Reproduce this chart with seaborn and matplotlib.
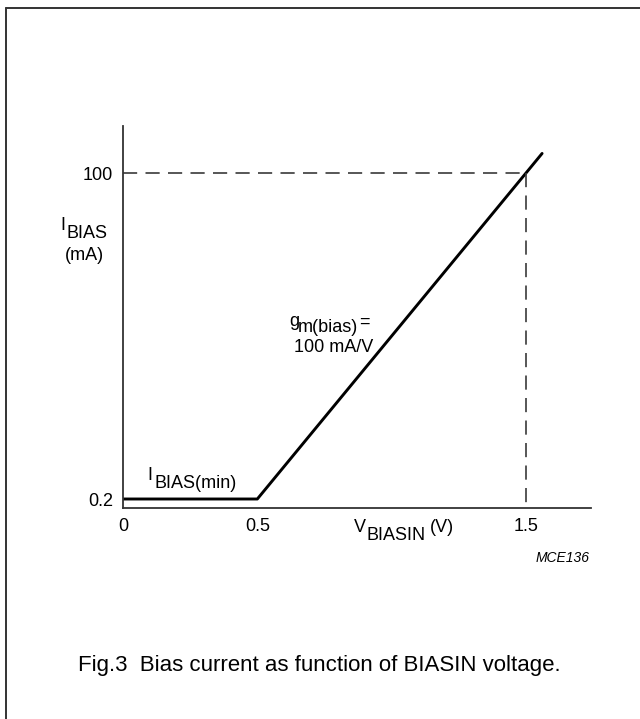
import pandas as pd
import matplotlib.pyplot as plt
import seaborn as sns
from matplotlib.lines import Line2D

# transfer curve (V, mA)
v_biasin = [0.0, 0.5, 1.5, 1.56]
i_bias = [0.2, 0.2, 100.0, 106.0]

# tick positions and labels
x_ticks = [0, 0.5, 1.5]
x_tick_labels = ['0', '0.5', '1.5']
y_ticks = [0.2, 100]
y_tick_labels = ['0.2', '100']

# reference point marked with dashed lines
v_ref = 1.5
i_ref = 100

sns.set_style('white')
plt.rcParams['font.family'] = ['Liberation Sans', 'DejaVu Sans']
plt.rcParams['text.color'] = 'black'

W, H = 640, 719
df = pd.DataFrame({'V': v_biasin, 'I': i_bias})

fig = plt.figure(figsize=(W / 100, H / 100), dpi=100)
ax = fig.add_axes([123 / W, 1 - 508 / H, 468 / W, 382 / H])

x_max = 1.742
y_min, y_max = -2.555, 114.4

sns.lineplot(data=df, x='V', y='I', color='black', linewidth=2.1,
             sort=False, ax=ax)
# dashed guides, both drawn starting from the 100 mA corner
ax.plot([0, v_ref], [i_ref, i_ref], color='#3a3a3a', lw=1.2,
        ls=(0, (8.5, 5)))
ax.plot([v_ref, v_ref], [i_ref, y_min], color='#3a3a3a', lw=1.2,
        ls=(0, (8.5, 5)))

ax.set_xlim(0, x_max)
ax.set_ylim(y_min, y_max)
ax.set_xticks(x_ticks)
ax.set_xticklabels(x_tick_labels)
ax.set_yticks(y_ticks)
ax.set_yticklabels(y_tick_labels)
ax.set_xlabel('')
ax.set_ylabel('')
ax.tick_params(direction='in', length=10.5, width=1.0, color='#333333',
               labelsize=13, pad=7, labelcolor='black')
for side in ['top', 'right']:
    ax.spines[side].set_visible(False)
for side in ['left', 'bottom']:
    ax.spines[side].set_color('#333333')
    ax.spines[side].set_linewidth(1.3)


def put(x, y, s, size=13, **kw):
    fig.text(x / W, 1 - y / H, s, fontsize=size, va='center', **kw)


# y axis label
put(60, 226, 'I')
put(66, 234, 'BIAS')
put(65, 256, '(mA)')

# slope annotation
put(289, 322, 'g')
put(298, 328, 'm(bias)')
put(359, 322, '=')
put(294, 347, '100 mA/V')

# minimum bias label
put(147, 476, 'I')
put(154, 484, 'BIAS(min)')

# x axis label
put(354, 527, 'V')
put(367, 535, 'BIASIN')
put(430, 528, '(V)')

put(590, 558, 'MCE136', size=10, style='italic', ha='right')

put(78, 666, 'Fig.3  Bias current as function of BIASIN voltage.', size=16)

# frame around the figure (only top and left edges fall inside)
fig.add_artist(Line2D([6 / W, 1], [1 - 8 / H, 1 - 8 / H], color='#333333',
                      lw=1.4, transform=fig.transFigure))
fig.add_artist(Line2D([6 / W, 6 / W], [0, 1 - 8 / H], color='#333333',
                      lw=1.4, transform=fig.transFigure))

fig.savefig('out.png', dpi=100)
